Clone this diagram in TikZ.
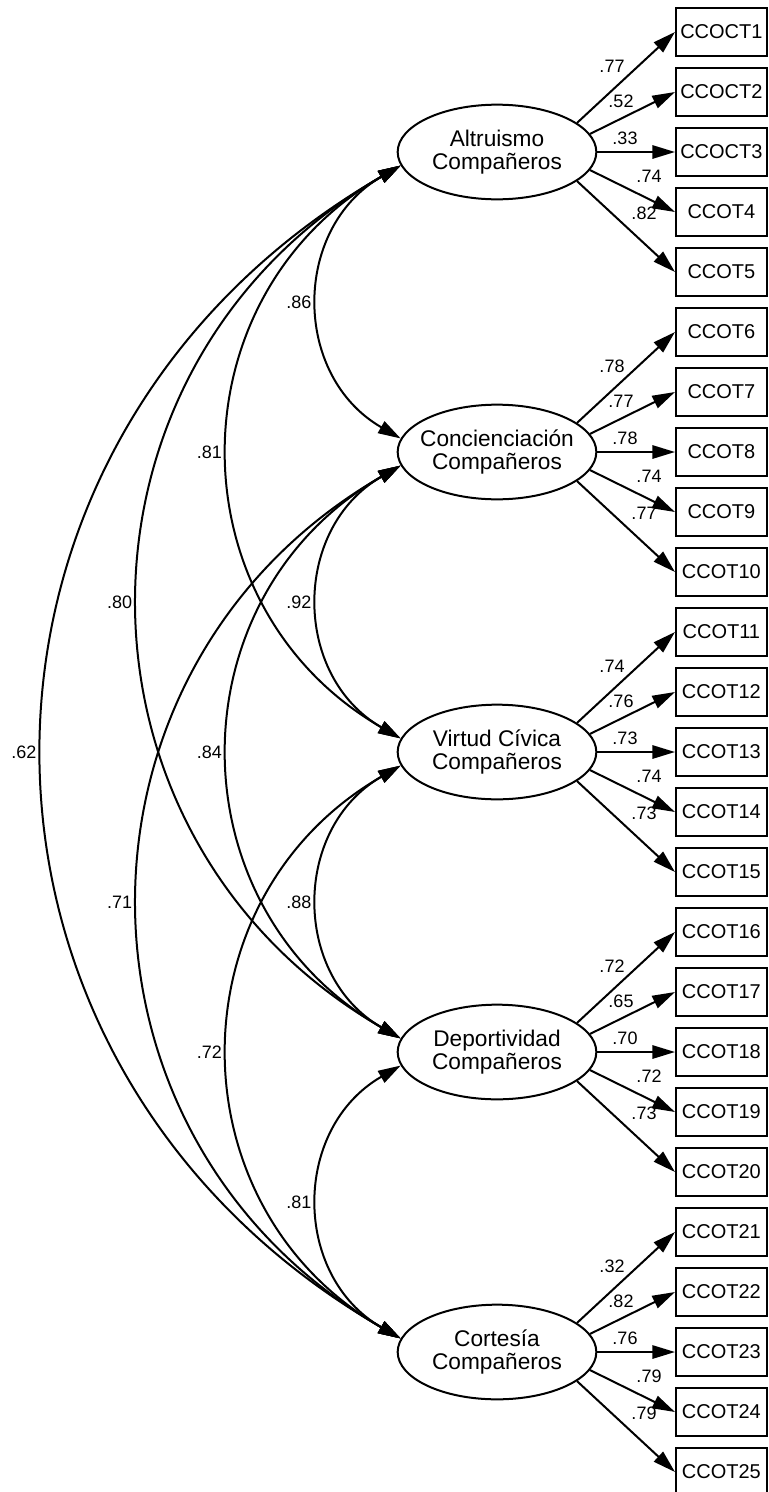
\documentclass[tikz,border=0pt]{standalone}
\usepackage{fontspec}
\setmainfont{Liberation Sans}
\usetikzlibrary{shapes.geometric,arrows.meta}

\begin{document}
\begin{tikzpicture}[x=0.75pt,y=-0.75pt]
    \tikzstyle{every node}+=[inner sep=0pt]
    \tikzstyle{latent}=[draw=black, line width=1.5pt, ellipse, inner xsep=-6pt, minimum width=149pt, minimum height=71pt, align=center, font=\fontsize{17}{17.5}\selectfont]
    \tikzstyle{indicator}=[draw=black, line width=1.6pt, rectangle, anchor=west, minimum width=68pt, minimum height=36pt, font=\fontsize{15}{18}\selectfont]
    \tikzstyle{loading}=[black, line width=1.5pt, -{Triangle[length=17pt,width=10pt]}]
    \tikzstyle{covar}=[black, line width=1.5pt, {Triangle[length=17pt,width=10pt]}-{Triangle[length=17pt,width=10pt]}]
    \tikzstyle{coef}=[font=\fontsize{13.5}{16}\selectfont]
    \useasboundingbox (0,0) rectangle (768,1492);
    \node [latent] (alt) at (497,152) {Altruismo\\Compañeros};
    \node [latent] (conc) at (497,452) {Concienciación\\Compañeros};
    \node [latent] (virt) at (497,752) {Virtud Cívica\\Compañeros};
    \node [latent] (dep) at (497,1052) {Deportividad\\Compañeros};
    \node [latent] (cort) at (497,1352) {Cortesía\\Compañeros};
    \node [indicator] (cc1) at (675,32) {CCOCT1};
    \node [indicator] (cc2) at (675,92) {CCOCT2};
    \node [indicator] (cc3) at (675,152) {CCOCT3};
    \node [indicator] (cc4) at (675,212) {CCOT4};
    \node [indicator] (cc5) at (675,272) {CCOT5};
    \node [indicator] (cc6) at (675,332) {CCOT6};
    \node [indicator] (cc7) at (675,392) {CCOT7};
    \node [indicator] (cc8) at (675,452) {CCOT8};
    \node [indicator] (cc9) at (675,512) {CCOT9};
    \node [indicator] (cc10) at (675,572) {CCOT10};
    \node [indicator] (cc11) at (675,632) {CCOT11};
    \node [indicator] (cc12) at (675,692) {CCOT12};
    \node [indicator] (cc13) at (675,752) {CCOT13};
    \node [indicator] (cc14) at (675,812) {CCOT14};
    \node [indicator] (cc15) at (675,872) {CCOT15};
    \node [indicator] (cc16) at (675,932) {CCOT16};
    \node [indicator] (cc17) at (675,992) {CCOT17};
    \node [indicator] (cc18) at (675,1052) {CCOT18};
    \node [indicator] (cc19) at (675,1112) {CCOT19};
    \node [indicator] (cc20) at (675,1172) {CCOT20};
    \node [indicator] (cc21) at (675,1232) {CCOT21};
    \node [indicator] (cc22) at (675,1292) {CCOT22};
    \node [indicator] (cc23) at (675,1352) {CCOT23};
    \node [indicator] (cc24) at (675,1412) {CCOT24};
    \node [indicator] (cc25) at (675,1472) {CCOT25};
    \draw [loading] (alt.20) -- (cc1.west);
    \draw [loading] (alt.11) -- (cc2.west);
    \draw [loading] (alt.0) -- (cc3.west);
    \draw [loading] (alt.349) -- (cc4.west);
    \draw [loading] (alt.340) -- (cc5.west);
    \draw [loading] (conc.20) -- (cc6.west);
    \draw [loading] (conc.11) -- (cc7.west);
    \draw [loading] (conc.0) -- (cc8.west);
    \draw [loading] (conc.349) -- (cc9.west);
    \draw [loading] (conc.340) -- (cc10.west);
    \draw [loading] (virt.20) -- (cc11.west);
    \draw [loading] (virt.11) -- (cc12.west);
    \draw [loading] (virt.0) -- (cc13.west);
    \draw [loading] (virt.349) -- (cc14.west);
    \draw [loading] (virt.340) -- (cc15.west);
    \draw [loading] (dep.20) -- (cc16.west);
    \draw [loading] (dep.11) -- (cc17.west);
    \draw [loading] (dep.0) -- (cc18.west);
    \draw [loading] (dep.349) -- (cc19.west);
    \draw [loading] (dep.340) -- (cc20.west);
    \draw [loading] (cort.20) -- (cc21.west);
    \draw [loading] (cort.11) -- (cc22.west);
    \draw [loading] (cort.0) -- (cc23.west);
    \draw [loading] (cort.349) -- (cc24.west);
    \draw [loading] (cort.340) -- (cc25.west);
    \node [coef] (l1) at (612,66) {.77};
    \node [coef] (l2) at (621,101) {.52};
    \node [coef] (l3) at (625,138) {.33};
    \node [coef] (l4) at (649,176) {.74};
    \node [coef] (l5) at (644,213) {.82};
    \node [coef] (l6) at (612,366) {.78};
    \node [coef] (l7) at (621,401) {.77};
    \node [coef] (l8) at (625,438) {.78};
    \node [coef] (l9) at (649,476) {.74};
    \node [coef] (l10) at (644,513) {.77};
    \node [coef] (l11) at (612,666) {.74};
    \node [coef] (l12) at (621,701) {.76};
    \node [coef] (l13) at (625,738) {.73};
    \node [coef] (l14) at (649,776) {.74};
    \node [coef] (l15) at (644,813) {.73};
    \node [coef] (l16) at (612,966) {.72};
    \node [coef] (l17) at (621,1001) {.65};
    \node [coef] (l18) at (625,1038) {.70};
    \node [coef] (l19) at (649,1076) {.72};
    \node [coef] (l20) at (644,1113) {.73};
    \node [coef] (l21) at (612,1266) {.32};
    \node [coef] (l22) at (621,1301) {.82};
    \node [coef] (l23) at (625,1338) {.76};
    \node [coef] (l24) at (649,1376) {.79};
    \node [coef] (l25) at (644,1413) {.79};
    \draw [covar] (alt.188) to [bend right=60, looseness=1.18] node [coef, midway, left=5pt] (r12) {.86} (conc.172);
    \draw [covar] (alt.188) to [bend right=60, looseness=1.18] node [coef, midway, left=5pt] (r13) {.81} (virt.172);
    \draw [covar] (alt.188) to [bend right=60, looseness=1.18] node [coef, midway, left=5pt] (r14) {.80} (dep.172);
    \draw [covar] (alt.188) to [bend right=60, looseness=1.2] node [coef, midway, left=5pt] (r15) {.62} (cort.172);
    \draw [covar] (conc.188) to [bend right=60, looseness=1.18] node [coef, midway, left=5pt] (r23) {.92} (virt.172);
    \draw [covar] (conc.188) to [bend right=60, looseness=1.18] node [coef, midway, left=5pt] (r24) {.84} (dep.172);
    \draw [covar] (conc.188) to [bend right=60, looseness=1.18] node [coef, midway, left=5pt] (r25) {.71} (cort.172);
    \draw [covar] (virt.188) to [bend right=60, looseness=1.18] node [coef, midway, left=5pt] (r34) {.88} (dep.172);
    \draw [covar] (virt.188) to [bend right=60, looseness=1.18] node [coef, midway, left=5pt] (r35) {.72} (cort.172);
    \draw [covar] (dep.188) to [bend right=60, looseness=1.18] node [coef, midway, left=5pt] (r45) {.81} (cort.172);
\end{tikzpicture}
\end{document}
